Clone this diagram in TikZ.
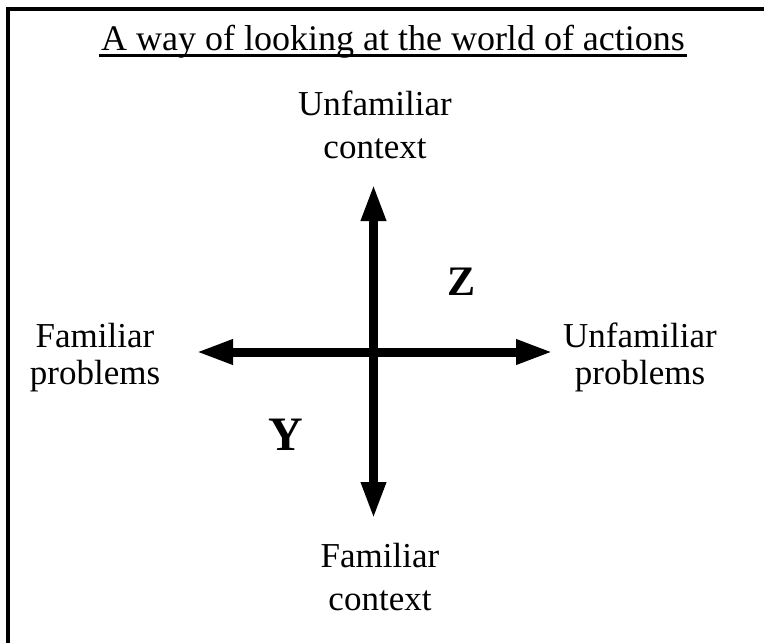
\documentclass[tikz,border=0pt]{standalone}
\usepackage{fontspec}
\setmainfont{Liberation Serif}
\usetikzlibrary{arrows.meta,calc}
\begin{document}
\begin{tikzpicture}[x=1pt,y=-1pt,
  frame/.style={line width=4pt,line cap=rect},
  axis/.style={line width=9pt,{Triangle[length=37pt,width=23pt]}-{Triangle[length=37pt,width=23pt]}},
  lbl/.style={inner sep=0pt,anchor=base,align=center,font=\fontsize{35}{37}\selectfont},
  lblv/.style={inner sep=0pt,anchor=base,align=center,font=\fontsize{35}{43}\selectfont},
  ttl/.style={inner sep=0pt,anchor=base,font=\fontsize{36}{40}\selectfont},
  big/.style={inner sep=0pt,anchor=base,font=\bfseries\fontsize{#1}{#1}\selectfont}]
\useasboundingbox (0,0) rectangle (764,643);
\fill[white] (0,0) rectangle (764,643);
\begin{scope}
\clip (0,0) rectangle (764,643);
\draw[frame] (8,660) -- (8,8.7) -- (780,8.7);
\end{scope}
\node[ttl] (title) at (393,50) {A way of looking at the world of actions};
\draw[line width=3.5pt] ($(title.base west)+(-2,5.5)$) coordinate (ulA) -- ($(title.base east)+(2,5.5)$) coordinate (ulB);
\coordinate (L) at (196,352);
\coordinate (R) at (553,352);
\coordinate (T) at (373.5,184);
\coordinate (B) at (373.5,519);
\draw[axis] (L) -- (R);
\draw[axis] (T) -- (B);
\node[lblv] (uc) at (375,158) {Unfamiliar\\context};
\node[lblv] (fc) at (380,610) {Familiar\\context};
\node[lbl] (fp) at (95,384) {Familiar\\problems};
\node[lbl] (up) at (640,384) {Unfamiliar\\problems};
\node[big=42] (z) at (462,295) {Z};
\node[big=48] (y) at (286,450) {Y};
\end{tikzpicture}
\end{document}
